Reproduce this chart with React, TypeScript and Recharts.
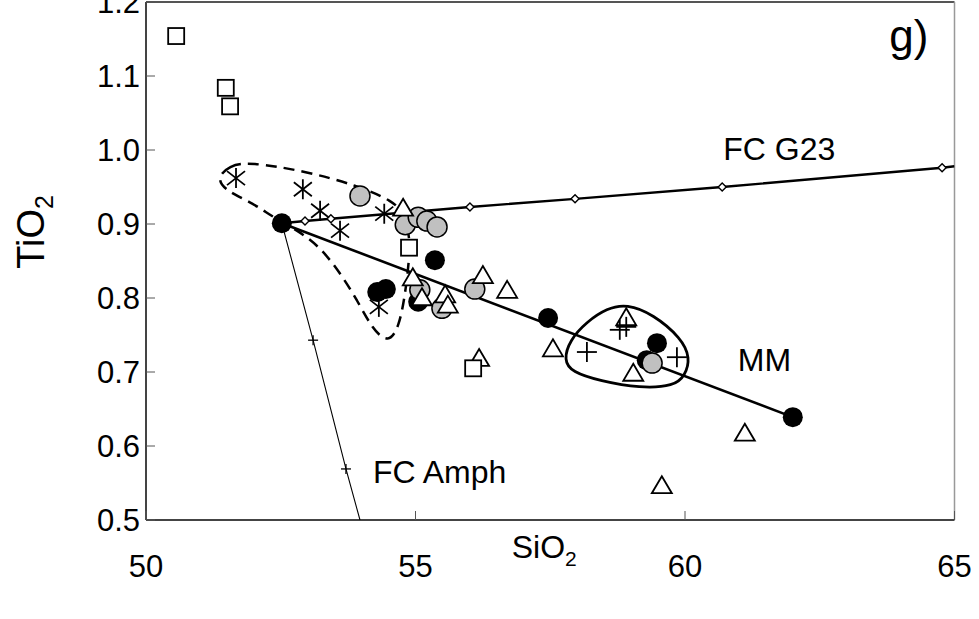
import React from 'react';
import {
  ScatterChart,
  Scatter,
  XAxis,
  YAxis,
  ReferenceLine,
  ReferenceDot,
  Label,
} from 'recharts';

const FONT = '"Liberation Sans", Arial, Helvetica, sans-serif';
const W = 979;
const H = 619;
const FS = 31;
const LABEL_FS = 32;

// axis ticks
const xTicks = [50, 55, 60, 65];
const yTicks = [0.5, 0.6, 0.7, 0.8, 0.9, 1.0, 1.1, 1.2];

type Pt = { x: number; y: number };

// sample groups (SiO2, TiO2 wt%)
const openSquares: Pt[] = [
  { x: 50.56, y: 1.154 },
  { x: 51.48, y: 1.084 },
  { x: 51.56, y: 1.059 },
  { x: 54.88, y: 0.868 },
  { x: 56.07, y: 0.705 },
];

const asterisks: Pt[] = [
  { x: 51.67, y: 0.962 },
  { x: 52.91, y: 0.947 },
  { x: 53.23, y: 0.918 },
  { x: 53.6, y: 0.891 },
  { x: 54.42, y: 0.914 },
  { x: 54.32, y: 0.788 },
];

const grayCircles: Pt[] = [
  { x: 53.97, y: 0.938 },
  { x: 54.81, y: 0.899 },
  { x: 55.05, y: 0.909 },
  { x: 55.21, y: 0.904 },
  { x: 55.4, y: 0.896 },
  { x: 55.08, y: 0.811 },
  { x: 55.49, y: 0.786 },
  { x: 56.1, y: 0.812 },
  { x: 59.39, y: 0.712 },
];

const blackCircles: Pt[] = [
  { x: 52.52, y: 0.901 },
  { x: 55.36, y: 0.851 },
  { x: 54.29, y: 0.808 },
  { x: 54.45, y: 0.812 },
  { x: 55.05, y: 0.795 },
  { x: 57.46, y: 0.773 },
  { x: 59.48, y: 0.739 },
  { x: 59.29, y: 0.716 },
  { x: 62.0, y: 0.639 },
];

const openTriangles: Pt[] = [
  { x: 54.77, y: 0.922 },
  { x: 54.95, y: 0.828 },
  { x: 55.12, y: 0.801 },
  { x: 55.55, y: 0.805 },
  { x: 55.6, y: 0.791 },
  { x: 56.25, y: 0.831 },
  { x: 56.7, y: 0.811 },
  { x: 57.55, y: 0.732 },
  { x: 56.18, y: 0.719 },
  { x: 58.91, y: 0.774 },
  { x: 59.04, y: 0.699 },
  { x: 61.11, y: 0.618 },
  { x: 59.57, y: 0.547 },
];

const crosses: Pt[] = [
  { x: 58.18, y: 0.727 },
  { x: 58.79, y: 0.757 },
  { x: 58.91, y: 0.761 },
  { x: 59.85, y: 0.72 },
];

// fractional crystallisation models, starting from the parent magma
const parent: Pt = { x: 52.52, y: 0.901 };
const fcG23Steps: Pt[] = [
  { x: 52.95, y: 0.904 },
  { x: 53.43, y: 0.907 },
  { x: 56.01, y: 0.923 },
  { x: 57.96, y: 0.934 },
  { x: 60.69, y: 0.95 },
  { x: 64.77, y: 0.976 },
];
const fcG23End: Pt = { x: 65.0, y: 0.978 };
const fcAmphSteps: Pt[] = [
  { x: 53.1, y: 0.743 },
  { x: 53.71, y: 0.569 },
];
const fcAmphEnd: Pt = { x: 53.97, y: 0.5 };
const mixingEnd: Pt = { x: 62.0, y: 0.639 };

// field outlines
const dashedField: Pt[] = [
  { x: 51.3, y: 0.962 },
  { x: 51.55, y: 0.979 },
  { x: 51.9, y: 0.984 },
  { x: 52.99, y: 0.971 },
  { x: 53.91, y: 0.952 },
  { x: 54.6, y: 0.931 },
  { x: 54.8, y: 0.912 },
  { x: 54.9, y: 0.88 },
  { x: 54.88, y: 0.85 },
  { x: 54.81, y: 0.806 },
  { x: 54.7, y: 0.762 },
  { x: 54.5, y: 0.738 },
  { x: 54.2, y: 0.758 },
  { x: 53.92, y: 0.797 },
  { x: 53.6, y: 0.834 },
  { x: 53.23, y: 0.869 },
  { x: 52.8, y: 0.892 },
  { x: 52.36, y: 0.909 },
  { x: 51.99, y: 0.928 },
  { x: 51.5, y: 0.944 },
];

const mmField: Pt[] = [
  { x: 58.92, y: 0.792 },
  { x: 59.41, y: 0.778 },
  { x: 59.93, y: 0.746 },
  { x: 60.1, y: 0.719 },
  { x: 60.0, y: 0.695 },
  { x: 59.8, y: 0.681 },
  { x: 59.17, y: 0.678 },
  { x: 58.42, y: 0.688 },
  { x: 57.9, y: 0.7 },
  { x: 57.75, y: 0.716 },
  { x: 57.86, y: 0.743 },
  { x: 58.18, y: 0.768 },
  { x: 58.55, y: 0.786 },
];

const fcG23Line: Pt[] = [parent, ...fcG23Steps, fcG23End];
const fcAmphLine: Pt[] = [parent, ...fcAmphSteps, fcAmphEnd];
const mixingLine: Pt[] = [parent, mixingEnd];

// marker shapes
const none = () => <g />;
const BlackDot = (p: any) => <circle cx={p.cx} cy={p.cy} r={10} fill="#000" />;
const GrayDot = (p: any) => (
  <circle cx={p.cx} cy={p.cy} r={10} fill="#c0c0c0" stroke="#000" strokeWidth={1.5} />
);
const Square = (p: any) => (
  <rect x={p.cx - 8} y={p.cy - 8} width={16} height={16} fill="#fff" stroke="#000" strokeWidth={1.8} />
);
const Triangle = (p: any) => (
  <path
    d={`M${p.cx},${p.cy - 9}L${p.cx + 10},${p.cy + 8}L${p.cx - 10},${p.cy + 8}Z`}
    fill="#fff"
    stroke="#000"
    strokeWidth={1.8}
    strokeLinejoin="miter"
  />
);
const Asterisk = (p: any) => (
  <g stroke="#000" strokeWidth={1.8}>
    <line x1={p.cx} y1={p.cy - 10} x2={p.cx} y2={p.cy + 10} />
    <line x1={p.cx - 9} y1={p.cy - 7} x2={p.cx + 9} y2={p.cy + 7} />
    <line x1={p.cx - 9} y1={p.cy + 7} x2={p.cx + 9} y2={p.cy - 7} />
  </g>
);
const Cross = (p: any) => (
  <g stroke="#000" strokeWidth={1.8}>
    <line x1={p.cx - 10} y1={p.cy} x2={p.cx + 10} y2={p.cy} />
    <line x1={p.cx} y1={p.cy - 10} x2={p.cx} y2={p.cy + 10} />
  </g>
);
const SmallCross = (p: any) => (
  <g stroke="#000" strokeWidth={1.3}>
    <line x1={p.cx - 5} y1={p.cy} x2={p.cx + 5} y2={p.cy} />
    <line x1={p.cx} y1={p.cy - 5} x2={p.cx} y2={p.cy + 5} />
  </g>
);
const Diamond = (p: any) => (
  <path
    d={`M${p.cx},${p.cy - 4}L${p.cx + 4},${p.cy}L${p.cx},${p.cy + 4}L${p.cx - 4},${p.cy}Z`}
    fill="#fff"
    stroke="#000"
    strokeWidth={1.4}
  />
);

const textProps = { fontFamily: FONT, fontSize: FS, fill: '#000' };

const XTick = (p: any) => (
  <g>
    <line x1={p.x} y1={p.y} x2={p.x} y2={p.y - 9} stroke="#555" strokeWidth={1} />
    <text x={p.x} y={p.y + 57} textAnchor="middle" {...textProps}>
      {p.payload.value}
    </text>
  </g>
);

const YTick = (p: any) => (
  <g>
    <line x1={p.x} y1={p.y} x2={p.x + 9} y2={p.y} stroke="#555" strokeWidth={1} />
    <text x={p.x - 6} y={p.y + FS * 0.36} textAnchor="end" {...textProps}>
      {Number(p.payload.value).toFixed(1)}
    </text>
  </g>
);

const XTitle = (p: any) => {
  const vb = p.viewBox;
  const cx = vb.x + vb.width / 2 - 6;
  return (
    <text x={cx} y={vb.y + 38} textAnchor="middle" fontFamily={FONT} fontSize={32} fill="#000">
      SiO
      <tspan fontSize={21} dy={8}>
        2
      </tspan>
    </text>
  );
};

const YTitle = (p: any) => {
  const vb = p.viewBox;
  const cx = vb.x - 42;
  const cy = 232;
  return (
    <text
      x={cx}
      y={cy}
      transform={`rotate(-90 ${cx} ${cy})`}
      textAnchor="middle"
      fontFamily={FONT}
      fontSize={38}
      fill="#000"
    >
      TiO
      <tspan fontSize={25} dy={9}>
        2
      </tspan>
    </text>
  );
};

const textAt = (s: string, size: number = LABEL_FS) => (p: any) => (
  <text x={p.cx} y={p.cy} textAnchor="start" fontFamily={FONT} fontSize={size} fill="#000">
    {s}
  </text>
);

export default function App() {
  return (
    <div style={{ position: 'absolute', left: 0, top: 0, width: W, height: H, background: '#fff' }}>
      <ScatterChart width={W} height={H} margin={{ top: 2, right: 24.5, bottom: 39, left: 86 }}>
        <XAxis
          type="number"
          dataKey="x"
          domain={[50, 65]}
          ticks={xTicks}
          interval={0}
          allowDataOverflow
          height={60}
          tickSize={0}
          tickMargin={0}
          tickLine={false}
          axisLine={{ stroke: '#444', strokeWidth: 2 }}
          tick={<XTick />}
        >
          <Label content={<XTitle />} />
        </XAxis>
        <YAxis
          type="number"
          dataKey="y"
          domain={[0.5, 1.2]}
          ticks={yTicks}
          interval={0}
          allowDataOverflow
          width={60}
          tickSize={0}
          tickMargin={0}
          tickLine={false}
          axisLine={{ stroke: '#444', strokeWidth: 2 }}
          tick={<YTick />}
        >
          <Label content={<YTitle />} />
        </YAxis>

        <ReferenceLine y={1.2} stroke="#555" strokeWidth={2} />
        <ReferenceLine x={65} stroke="#999" strokeWidth={1.5} />

        {/* fields */}
        <Scatter
          data={dashedField}
          shape={none}
          line={{ stroke: '#000', strokeWidth: 2.5, strokeDasharray: '11 7', fill: 'none' }}
          lineType="joint"
          lineJointType="basisClosed"
          isAnimationActive={false}
        />
        <Scatter
          data={mmField}
          shape={none}
          line={{ stroke: '#000', strokeWidth: 2.8, fill: 'none' }}
          lineType="joint"
          lineJointType="basisClosed"
          isAnimationActive={false}
        />

        {/* model trends */}
        <Scatter
          data={fcG23Line}
          shape={none}
          line={{ stroke: '#000', strokeWidth: 2.4, fill: 'none' }}
          lineType="joint"
          lineJointType="linear"
          isAnimationActive={false}
        />
        <Scatter
          data={mixingLine}
          shape={none}
          line={{ stroke: '#000', strokeWidth: 2.6, fill: 'none' }}
          lineType="joint"
          lineJointType="linear"
          isAnimationActive={false}
        />
        <Scatter
          data={fcAmphLine}
          shape={none}
          line={{ stroke: '#000', strokeWidth: 1.1, fill: 'none' }}
          lineType="joint"
          lineJointType="linear"
          isAnimationActive={false}
        />
        <Scatter data={fcG23Steps} shape={Diamond} isAnimationActive={false} />
        <Scatter data={fcAmphSteps} shape={SmallCross} isAnimationActive={false} />

        {/* samples */}
        <Scatter data={blackCircles} shape={BlackDot} isAnimationActive={false} />
        <Scatter data={grayCircles} shape={GrayDot} isAnimationActive={false} />
        <Scatter data={openTriangles} shape={Triangle} isAnimationActive={false} />
        <Scatter data={asterisks} shape={Asterisk} isAnimationActive={false} />
        <Scatter data={crosses} shape={Cross} isAnimationActive={false} />
        <Scatter data={openSquares} shape={Square} isAnimationActive={false} />

        {/* annotations */}
        <ReferenceDot x={60.71} y={0.986} r={0} shape={textAt('FC G23')} />
        <ReferenceDot x={60.98} y={0.701} r={0} shape={textAt('MM')} />
        <ReferenceDot x={54.21} y={0.55} r={0} shape={textAt('FC Amph')} />
        <ReferenceDot x={63.79} y={1.134} r={0} shape={textAt('g)', 44)} />
      </ScatterChart>
    </div>
  );
}
